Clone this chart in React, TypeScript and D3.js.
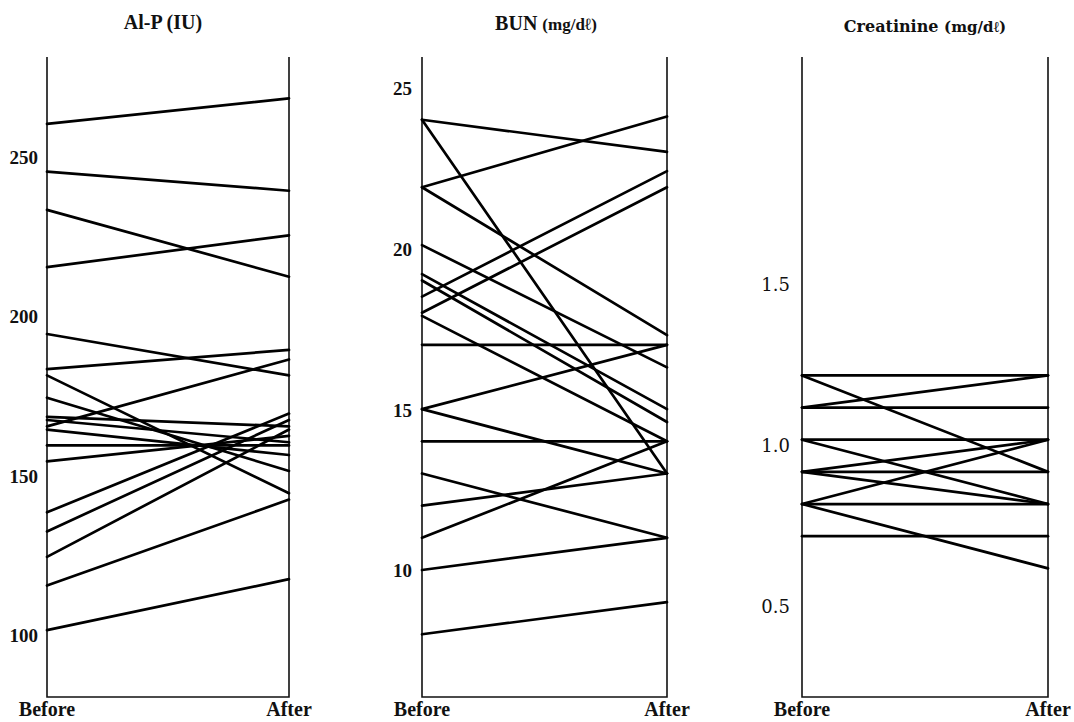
import React from "react";
import * as d3 from "d3";

// time points
const phases = ["Before", "After"];

// Al-P (IU)
const alpBefore = [261, 246, 234, 216, 195, 184, 182, 175, 169, 168, 166, 165, 160, 155, 139, 133, 125, 116, 102];
const alpAfter = [269, 240, 213, 226, 182, 190, 145, 152, 166, 161, 187, 157, 160, 163, 170, 168, 165, 143, 118];
const alpTicks = [100, 150, 200, 250];

// BUN (mg/dl)
const bunBefore = [24, 24, 21.9, 21.9, 20.1, 19.2, 19.0, 18.5, 18.0, 17.9, 17, 15, 15, 14, 13, 12, 11, 10, 8];
const bunAfter = [23, 13, 24.1, 17.3, 16.3, 15.0, 14.6, 22.4, 21.9, 14.0, 17, 17, 13, 14, 11, 13, 14, 11, 9];
const bunTicks = [10, 15, 20, 25];

// Creatinine (mg/dl)
const creBefore = [1.2, 1.2, 1.1, 1.1, 1.0, 1.0, 0.9, 0.9, 0.9, 0.8, 0.8, 0.8, 0.7];
const creAfter = [1.2, 0.9, 1.2, 1.1, 1.0, 0.8, 1.0, 0.9, 0.8, 1.0, 0.8, 0.6, 0.7];
const creTicks = [0.5, 1.0, 1.5];

const TIMES = "'Liberation Serif', 'Times New Roman', serif";
const CENTURY = "'DejaVu Serif', serif";

const top = 57, bottom = 697;

function Panel(props) {
  const { x0, x1, domain, before, after, ticks, fmt, tickFont, tickWeight, tickSize, tickGap, tickDy, title } = props;
  const x = d3.scalePoint().domain(phases).range([x0, x1]);
  const y = d3.scaleLinear().domain(domain).range([bottom, top]);
  const line = d3.line<[string, number]>().x(d => x(d[0])).y(d => y(d[1]));
  const pairs = before.map((b, i) => [[phases[0], b], [phases[1], after[i]]]);
  return (
    <g>
      {title}
      <path d={`M${x0},${top}V${bottom}H${x1}V${top}`} fill="none" stroke="#111" strokeWidth={1.6} />
      {pairs.map((p, i) => (
        <path key={i} d={line(p)} fill="none" stroke="#000" strokeWidth={2.7} strokeLinecap="round" />
      ))}
      {ticks.map(t => (
        <text key={t} x={x0 - tickGap} y={y(t) + tickDy} textAnchor="end" dominantBaseline="middle"
          fontFamily={tickFont} fontWeight={tickWeight} fontSize={tickSize} fill="#111">{fmt(t)}</text>
      ))}
      {phases.map(ph => (
        <text key={ph} x={x(ph)} y={716} textAnchor="middle" fontFamily={TIMES} fontWeight="bold" fontSize={20} fill="#111">{ph}</text>
      ))}
    </g>
  );
}

export default function App() {
  return (
    <div>
      <style>{"body{margin:0;background:#fff}"}</style>
      <svg width={1074} height={722} style={{ display: "block" }}>
        <rect width={1074} height={722} fill="#fff" />
        <Panel x0={47} x1={289} domain={[81, 282]} before={alpBefore} after={alpAfter} ticks={alpTicks}
          fmt={d => String(d)} tickFont={TIMES} tickWeight="bold" tickSize={19} tickGap={9} tickDy={1}
          title={<text x={163} y={29} textAnchor="middle" fontFamily={TIMES} fontWeight="bold" fontSize={20} fill="#111">Al-P (IU)</text>} />
        <Panel x0={422} x1={667} domain={[6.05, 25.95]} before={bunBefore} after={bunAfter} ticks={bunTicks}
          fmt={d => String(d)} tickFont={TIMES} tickWeight="bold" tickSize={19} tickGap={10} tickDy={3}
          title={<text x={546} y={30} textAnchor="middle" fontFamily={TIMES} fontWeight="bold" fill="#111">
            <tspan fontSize={20}>BUN </tspan><tspan fontSize={17}>(mg/dℓ)</tspan></text>} />
        <Panel x0={802} x1={1048} domain={[0.2, 2.19]} before={creBefore} after={creAfter} ticks={creTicks}
          fmt={d => d3.format(".1f")(d)} tickFont={CENTURY} tickWeight="normal" tickSize={18} tickGap={12} tickDy={7}
          title={<text x={925} y={32} textAnchor="middle" fontFamily={CENTURY} fontWeight="bold" fill="#111">
            <tspan fontSize={16}>Creatinine </tspan><tspan fontSize={15}>(mg/dℓ)</tspan></text>} />
      </svg>
    </div>
  );
}
